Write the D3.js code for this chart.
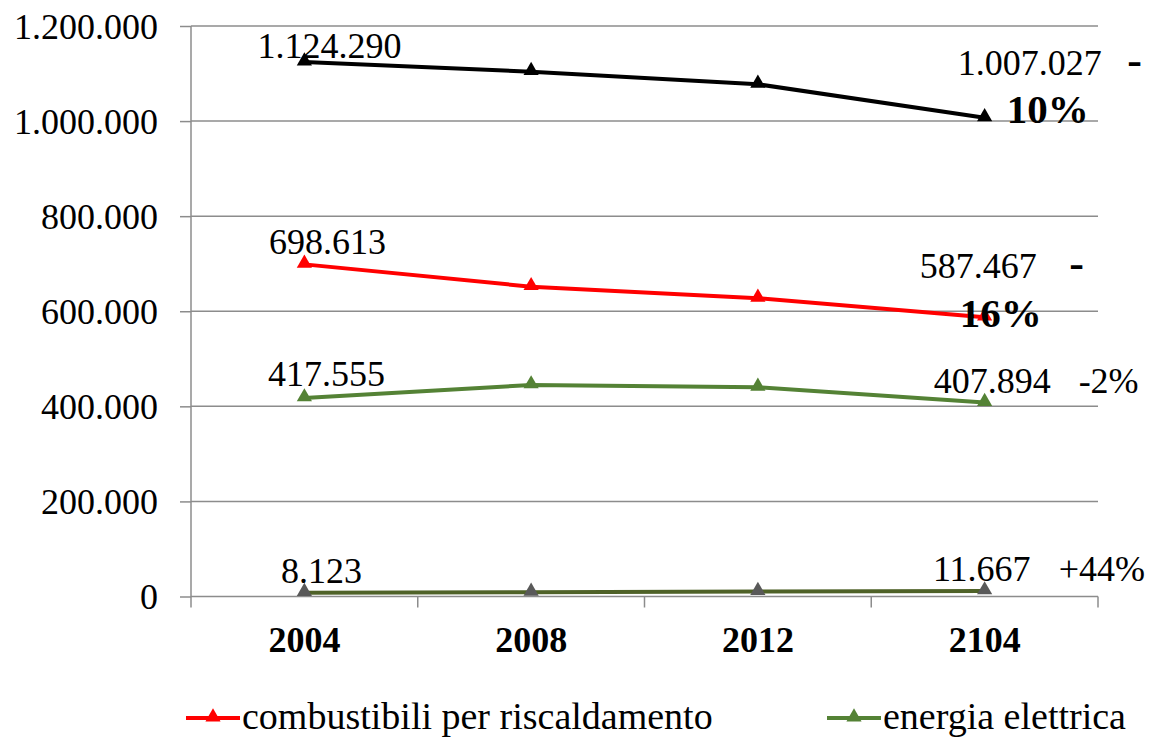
<!DOCTYPE html>
<html>
<head>
<meta charset="utf-8">
<script src="https://cdn.jsdelivr.net/npm/d3@7"></script>
<style>
  html, body { margin: 0; padding: 0; background: #fff; overflow: hidden; }
  svg { display: block; font-family: "Liberation Serif", "Times New Roman", serif; }
</style>
</head>
<body>
<svg id="chart" width="1149" height="738"></svg>
<script>
// ---- data ----
const categories = ["2004", "2008", "2012", "2104"];
const seriesNames = ["totale", "combustibili per riscaldamento", "energia elettrica", "altro"];
const totaleValues = [1124290, 1104000, 1077400, 1007027];
const combustibiliValues = [698613, 651700, 627300, 587467];
const energiaValues = [417555, 444900, 440000, 407894];
const altroValues = [8123, 8900, 10500, 11667];
const yTicks = [0, 200000, 400000, 600000, 800000, 1000000, 1200000];
const legendNames = ["combustibili per riscaldamento", "energia elettrica"];

// ---- setup ----
const svg = d3.select("#chart");
const plotLeft = 191, plotRight = 1098, plotTop = 26, plotBottom = 596.5;
const fontSize = 36;

const it = d3.formatLocale({ decimal: ",", thousands: ".", grouping: [3], currency: ["", "€"] });
const fmt = it.format(",");

const x = d3.scaleBand().domain(categories).range([plotLeft, plotRight]).paddingInner(0).paddingOuter(0);
const y = d3.scaleLinear().domain([0, 1200000]).range([plotBottom, plotTop]);
const cx = c => x(c) + x.bandwidth() / 2;

// gridlines
svg.append("g").selectAll("line").data(yTicks.filter(d => d > 0)).join("line")
  .attr("x1", plotLeft).attr("x2", plotRight)
  .attr("y1", d => y(d)).attr("y2", d => y(d))
  .attr("stroke", "#8c8c8c").attr("stroke-width", 1.5);

// y axis
const yAxis = d3.axisLeft(y).tickValues(yTicks).tickFormat(fmt).tickSizeInner(11).tickSizeOuter(0).tickPadding(22);
const gy = svg.append("g").attr("transform", `translate(${plotLeft},0)`).call(yAxis);
gy.select(".domain").attr("stroke", "#8c8c8c").attr("stroke-width", 1.5)
  .attr("d", `M0,${plotBottom + 11}V${plotTop}`);
gy.selectAll(".tick line").attr("stroke", "#8c8c8c").attr("stroke-width", 1.5);
gy.selectAll(".tick text").attr("font-size", fontSize).attr("fill", "#000")
  .attr("font-family", "'Liberation Serif', 'Times New Roman', serif").attr("dy", "0.34em");

// x axis
const gx = svg.append("g").attr("transform", `translate(0,${plotBottom})`);
gx.append("line").attr("x1", plotLeft).attr("x2", plotRight).attr("y1", 0).attr("y2", 0)
  .attr("stroke", "#8c8c8c").attr("stroke-width", 1.5);
const bounds = categories.map(c => x(c)).concat([x(categories[categories.length - 1]) + x.bandwidth()]);
gx.selectAll("line.tk").data(bounds.slice(1)).join("line").attr("class", "tk")
  .attr("x1", d => d).attr("x2", d => d).attr("y1", 0).attr("y2", 11)
  .attr("stroke", "#8c8c8c").attr("stroke-width", 1.5);
gx.selectAll("text").data(categories).join("text")
  .attr("x", d => cx(d)).attr("y", 652 - plotBottom)
  .attr("text-anchor", "middle").attr("font-size", fontSize).attr("font-weight", "bold")
  .text(d => d);

// series
const series = [
  { name: seriesNames[0], values: totaleValues, color: "#000000", marker: "#000000" },
  { name: seriesNames[1], values: combustibiliValues, color: "#ff0000", marker: "#ff0000" },
  { name: seriesNames[2], values: energiaValues, color: "#548235", marker: "#548235" },
  { name: seriesNames[3], values: altroValues, color: "#4f6228", marker: "#595959" }
];

const line = d3.line().x((d, i) => cx(categories[i])).y(d => y(d));
const tri = d3.symbol().type(d3.symbolTriangle).size(100);

series.forEach(s => {
  svg.append("path").attr("d", line(s.values)).attr("fill", "none")
    .attr("stroke", s.color).attr("stroke-width", 4).attr("stroke-linejoin", "round");
  svg.append("g").selectAll("path").data(s.values).join("path")
    .attr("d", tri)
    .attr("transform", (d, i) => `translate(${cx(categories[i])},${y(d) - 1})`)
    .attr("fill", s.marker);
});

// labels
const pctOf = s => {
  const a = s.values[0], b = s.values[s.values.length - 1];
  return Math.round((b - a) / a * 100);
};
const lbl = svg.append("g").attr("font-size", fontSize).attr("fill", "#000");

// first-point labels
const firstDy = [-4, -10, -12, -10];
const firstDx = [25, 23, 22, 17];
series.forEach((s, k) => {
  lbl.append("text")
    .attr("x", cx(categories[0]) + firstDx[k])
    .attr("y", y(s.values[0]) + firstDy[k])
    .attr("text-anchor", "middle").text(fmt(s.values[0]));
});

// last-point labels
const lastX = cx(categories[categories.length - 1]);
const lastSpec = [
  { vx: 117, vy: -43, style: "split", sx: 150, sy: -43, px: 62, py: 5 },
  { vx: 52, vy: -39, style: "split", sx: 92, sy: -39, px: 15, py: 10 },
  { vx: 66, vy: -10, style: "inline", px: 94, py: -10 },
  { vx: 46, vy: -10, style: "inline", px: 74, py: -10 }
];
series.forEach((s, k) => {
  const sp = lastSpec[k];
  const v = s.values[s.values.length - 1];
  const py0 = y(v);
  const p = pctOf(s);
  lbl.append("text").attr("x", lastX + sp.vx).attr("y", py0 + sp.vy)
    .attr("text-anchor", "end").text(fmt(v));
  if (sp.style === "split") {
    lbl.append("text").attr("x", lastX + sp.sx).attr("y", py0 + sp.sy)
      .attr("text-anchor", "middle").attr("font-weight", "bold").attr("font-size", 44)
      .text(p < 0 ? "-" : "+");
    lbl.append("text").attr("x", lastX + sp.px + 1).attr("y", py0 + sp.py)
      .attr("text-anchor", "middle").attr("font-weight", "bold").attr("font-size", 41)
      .text(Math.abs(p) + "%");
  } else {
    lbl.append("text").attr("x", lastX + sp.px).attr("y", py0 + sp.py)
      .attr("text-anchor", "start").text((p < 0 ? "-" : "+") + Math.abs(p) + "%");
  }
});

// legend
const legendItems = legendNames.map(n => series.find(s => s.name === n));
const legendX = [186, 827];
const legendY = 718;
legendItems.forEach((s, i) => {
  const g = svg.append("g").attr("transform", `translate(${legendX[i]},${legendY})`);
  g.append("line").attr("x1", 0).attr("x2", 54).attr("y1", 0).attr("y2", 0)
    .attr("stroke", s.color).attr("stroke-width", 4);
  g.append("path").attr("d", tri).attr("transform", "translate(27,-1)").attr("fill", s.marker);
  g.append("text").attr("x", 56).attr("y", 11).attr("font-size", 38).text(s.name);
});
</script>
</body>
</html>
